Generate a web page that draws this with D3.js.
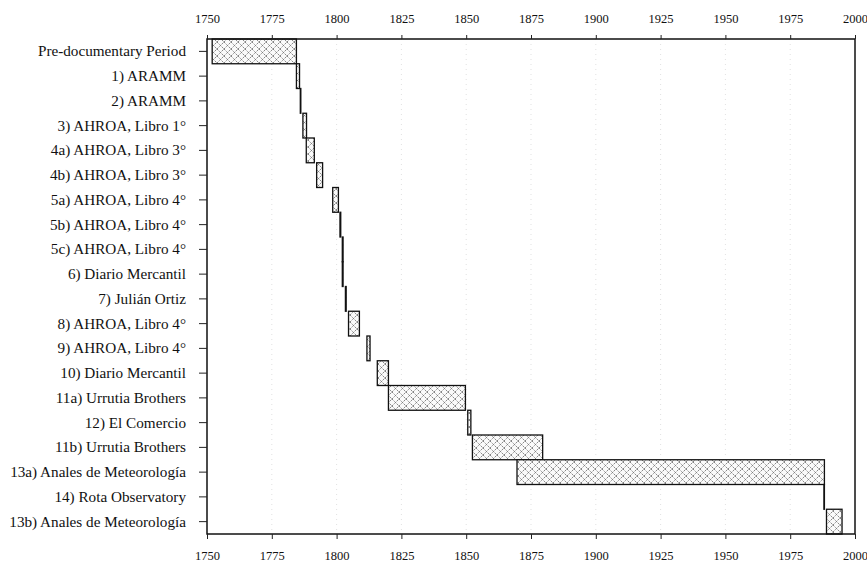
<!DOCTYPE html>
<html>
<head>
<meta charset="utf-8">
<script src="https://cdn.jsdelivr.net/npm/d3@7"></script>
<style>
  body { margin: 0; background: #fff; }
</style>
</head>
<body>
<svg id="chart" width="867" height="565"></svg>
<script>
  const sources = ["Pre-documentary Period", "1) ARAMM", "2) ARAMM", "3) AHROA, Libro 1°",
    "4a) AHROA, Libro 3°", "4b) AHROA, Libro 3°", "5a) AHROA, Libro 4°", "5b) AHROA, Libro 4°",
    "5c) AHROA, Libro 4°", "6) Diario Mercantil", "7) Julián Ortiz", "8) AHROA, Libro 4°",
    "9) AHROA, Libro 4°", "10) Diario Mercantil", "11a) Urrutia Brothers", "12) El Comercio",
    "11b) Urrutia Brothers", "13a) Anales de Meteorología", "14) Rota Observatory",
    "13b) Anales de Meteorología"];
  const startYears = [1752, 1784.5, 1786, 1787, 1788.3, 1792.3, 1798.5, 1801.3, 1802.2, 1802.2,
    1803.4, 1804.6, 1811.7, 1815.7, 1820, 1850.6, 1852.4, 1869.6, 1988, 1989];
  const endYears = [1784.5, 1785.7, 1786.2, 1788.4, 1791.4, 1794.6, 1800.7, 1801.6, 1802.5, 1802.5,
    1803.7, 1808.8, 1812.9, 1820, 1849.7, 1851.8, 1879.5, 1988.2, 1988.2, 1995];
  const yearTicks = [1750, 1775, 1800, 1825, 1850, 1875, 1900, 1925, 1950, 1975, 2000];

  const svg = d3.select("#chart");
  const plotLeft = 207, plotRight = 855, plotTop = 39, plotBottom = 534;
  const serif = "'Liberation Serif'";

  const x = d3.scaleLinear().domain([1750, 2000]).range([plotLeft, plotRight]);
  const y = d3.scaleBand().domain(sources).range([plotTop, plotBottom]).padding(0);

  // cross hatch fill
  const defs = svg.append("defs");
  const pat = defs.append("pattern")
    .attr("id", "hatch")
    .attr("patternUnits", "userSpaceOnUse")
    .attr("width", 7).attr("height", 7);
  pat.append("rect").attr("width", 7).attr("height", 7).attr("fill", "#fafafa");
  pat.append("path").attr("d", "M0,0L7,7M0,7L7,0")
    .attr("stroke", "#666").attr("stroke-width", 0.8).attr("stroke-dasharray", "1.5,0.8");

  // faint dotted grid
  svg.append("g").selectAll("line")
    .data(yearTicks.slice(1, -1))
    .enter().append("line")
    .attr("x1", d => x(d)).attr("x2", d => x(d))
    .attr("y1", plotTop).attr("y2", plotBottom)
    .attr("stroke", "#d4d4d4").attr("stroke-width", 0.7)
    .attr("stroke-dasharray", "1,4");

  const rows = sources.map((s, i) => ({ name: s, start: startYears[i], end: endYears[i] }));

  svg.append("g").selectAll("rect")
    .data(rows)
    .enter().append("rect")
    .attr("x", d => x(d.start))
    .attr("y", d => y(d.name))
    .attr("width", d => Math.max(0.5, x(d.end) - x(d.start)))
    .attr("height", y.bandwidth())
    .attr("fill", "url(#hatch)")
    .attr("stroke", "#111")
    .attr("stroke-width", 1.3);

  // frame
  svg.append("rect")
    .attr("x", plotLeft).attr("y", plotTop)
    .attr("width", plotRight - plotLeft).attr("height", plotBottom - plotTop)
    .attr("fill", "none").attr("stroke", "#111").attr("stroke-width", 1.5);

  const topAxis = d3.axisTop(x).tickValues(yearTicks).tickFormat(d3.format("d")).tickSize(4).tickPadding(12);
  const bottomAxis = d3.axisBottom(x).tickValues(yearTicks).tickFormat(d3.format("d")).tickSize(5).tickPadding(12);
  const leftAxis = d3.axisLeft(y).tickSize(8).tickPadding(13);

  const styleAxis = (g, size) => {
    g.select(".domain").remove();
    g.selectAll(".tick line").attr("stroke", "#222");
    g.selectAll(".tick text")
      .style("font-family", serif)
      .style("font-size", size + "px")
      .attr("fill", "#111");
  };

  svg.append("g").attr("transform", `translate(0,${plotTop})`).call(topAxis)
    .call(g => styleAxis(g, 12.5));
  svg.append("g").attr("transform", `translate(0,${plotBottom})`).call(bottomAxis)
    .call(g => styleAxis(g, 12.5));
  svg.append("g").attr("transform", `translate(${plotLeft},0)`).call(leftAxis)
    .call(g => styleAxis(g, 15.2));
</script>
</body>
</html>
